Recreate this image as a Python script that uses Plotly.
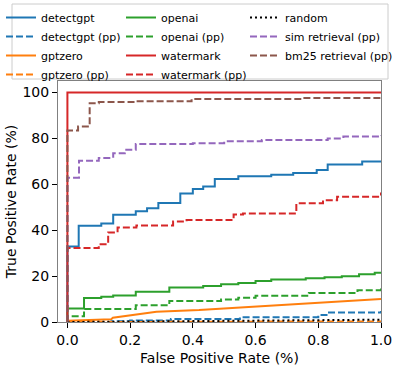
import plotly.graph_objects as go

# ---- data (FPR %, TPR %) ----
detectgpt_x = [0, 0, 0.036, 0.108, 0.146, 0.218, 0.254, 0.29, 0.36, 0.40, 0.433, 0.47, 0.545, 0.65, 0.72, 0.795, 0.83, 0.94, 1.0]
detectgpt_y = [0, 32.9, 41.9, 42.9, 46.7, 48.2, 49.6, 51.8, 56.0, 58.0, 59.0, 62.3, 63.5, 64.2, 64.9, 66.2, 68.6, 69.9, 70.3]

detectgpt_pp_x = [0, 0.14, 0.2, 0.33, 0.55, 0.80, 0.83, 1.0]
detectgpt_pp_y = [0, 0.3, 0.7, 1.3, 2.1, 3.0, 4.1, 4.8]

gptzero_x = [0, 0.14, 0.145, 0.284, 0.42, 0.58, 0.68, 0.84, 1.0]
gptzero_y = [0.5, 1.2, 1.9, 4.5, 5.2, 6.5, 7.2, 8.6, 10.0]

gptzero_pp_x = [0, 0.3, 0.6, 1.0]
gptzero_pp_y = [0, 0.1, 0.2, 0.3]

openai_x = [0, 0, 0.053, 0.108, 0.146, 0.218, 0.325, 0.433, 0.49, 0.545, 0.6, 0.65, 0.76, 0.82, 0.875, 0.93, 0.98, 1.0]
openai_y = [0, 5.9, 10.5, 11.0, 11.6, 13.2, 15.0, 15.7, 16.4, 17.0, 17.9, 18.5, 19.1, 19.5, 19.9, 20.8, 21.5, 21.5]

openai_pp_x = [0, 0, 0.053, 0.218, 0.325, 0.49, 0.545, 0.6, 0.77, 0.925, 1.0]
openai_pp_y = [0, 2.5, 5.7, 7.3, 9.2, 9.8, 10.6, 11.4, 12.6, 13.8, 14.8]

watermark_x = [0, 0, 1.0]
watermark_y = [0, 100, 100]

watermark_pp_x = [0, 0, 0.10, 0.13, 0.16, 0.22, 0.337, 0.38, 0.53, 0.56, 0.73, 0.815, 0.86, 1.0]
watermark_pp_y = [0, 32.2, 33.9, 39.0, 41.2, 42.0, 43.8, 44.4, 46.8, 47.3, 51.7, 53.0, 54.6, 56.4]

random_x = [0, 1.0]
random_y = [0, 1.0]

sim_pp_x = [0, 0, 0.037, 0.10, 0.146, 0.183, 0.218, 0.40, 0.50, 0.62, 0.83, 0.88, 1.0]
sim_pp_y = [0, 62.9, 70.3, 71.5, 73.5, 75.0, 77.6, 77.9, 78.7, 79.3, 80.0, 80.8, 81.5]

bm25_pp_x = [0, 0, 0.034, 0.071, 0.10, 0.215, 0.396, 0.75, 1.0]
bm25_pp_y = [0, 83.4, 85.2, 95.3, 95.8, 96.2, 97.2, 97.6, 97.9]

x_ticks = [0.0, 0.2, 0.4, 0.6, 0.8, 1.0]
y_ticks = [0, 20, 40, 60, 80, 100]

BLUE, ORANGE, GREEN, RED, PURPLE, BROWN = "#1f77b4", "#ff7f0e", "#2ca02c", "#d62728", "#9467bd", "#8c564b"
DASH = "7px,3px"

# (name, x, y, color, dash, shape, legend column)
series = [
    ("detectgpt", detectgpt_x, detectgpt_y, BLUE, "solid", "hv", "legend"),
    ("detectgpt (pp)", detectgpt_pp_x, detectgpt_pp_y, BLUE, DASH, "hv", "legend"),
    ("gptzero", gptzero_x, gptzero_y, ORANGE, "solid", "linear", "legend"),
    ("gptzero (pp)", gptzero_pp_x, gptzero_pp_y, ORANGE, DASH, "hv", "legend"),
    ("openai", openai_x, openai_y, GREEN, "solid", "hv", "legend2"),
    ("openai (pp)", openai_pp_x, openai_pp_y, GREEN, DASH, "hv", "legend2"),
    ("watermark", watermark_x, watermark_y, RED, "solid", "linear", "legend2"),
    ("watermark (pp)", watermark_pp_x, watermark_pp_y, RED, DASH, "hv", "legend2"),
    ("random", random_x, random_y, "black", "2px,3px", "linear", "legend3"),
    ("sim retrieval (pp)", sim_pp_x, sim_pp_y, PURPLE, DASH, "hv", "legend3"),
    ("bm25 retrieval (pp)", bm25_pp_x, bm25_pp_y, BROWN, DASH, "hv", "legend3"),
]

fig = go.Figure()
for name, xs, ys, col, dash, shape, leg in series:
    fig.add_trace(go.Scatter(
        x=xs, y=ys, name=name, mode="lines",
        line=dict(color=col, width=2, dash=dash, shape=shape),
        legend=leg,
    ))

font = "DejaVu Sans"
L, W, B, H = 58, 323, 322, 241  # plot-area geometry in px (for paper-coordinate placement)


def px_x(p):
    return (p - L) / W


def px_y(p):
    return (B - p) / H


leg_common = dict(
    orientation="v", xanchor="left", yanchor="top", y=px_y(3),
    font=dict(size=11, family=font), bgcolor="rgba(0,0,0,0)", borderwidth=0,
    itemwidth=30, tracegroupgap=0,
)

fig.update_layout(
    width=399, height=366,
    margin=dict(l=58, r=18, t=81, b=44, autoexpand=False),
    paper_bgcolor="white", plot_bgcolor="white",
    font=dict(family=font, color="black", size=14),
    showlegend=True,
    legend=dict(x=px_x(1), **leg_common),
    legend2=dict(x=px_x(121), **leg_common),
    legend3=dict(x=px_x(245), **leg_common),
    shapes=[dict(
        type="rect", xref="paper", yref="paper",
        x0=px_x(12), x1=px_x(388), y0=px_y(79), y1=px_y(4),
        line=dict(color="#cccccc", width=1), fillcolor="white", layer="below",
    )],
    xaxis=dict(
        range=[-0.03, 1.0], tickvals=x_ticks, ticktext=[f"{v:.1f}" for v in x_ticks],
        showgrid=False, zeroline=False, showline=True, linecolor="#808080", linewidth=1,
        mirror=True, ticks="outside", ticklen=5, tickcolor="black", automargin=False,
        title=dict(text="False Positive Rate (%)", font=dict(size=14)),
        tickfont=dict(size=14),
    ),
    yaxis=dict(
        range=[0, 105], tickvals=y_ticks,
        showgrid=False, zeroline=False, showline=True, linecolor="#808080", linewidth=1,
        mirror=True, ticks="outside", ticklen=5, tickcolor="black", automargin=True,
        title=dict(text="True Positive Rate (%)", font=dict(size=14), standoff=2),
        tickfont=dict(size=14),
    ),
)

# remove the browser's default 8px body margin so the figure sits at the page origin
fig.write_html("out.html", config={"displayModeBar": False},
               post_script="document.body.style.margin='0';")
